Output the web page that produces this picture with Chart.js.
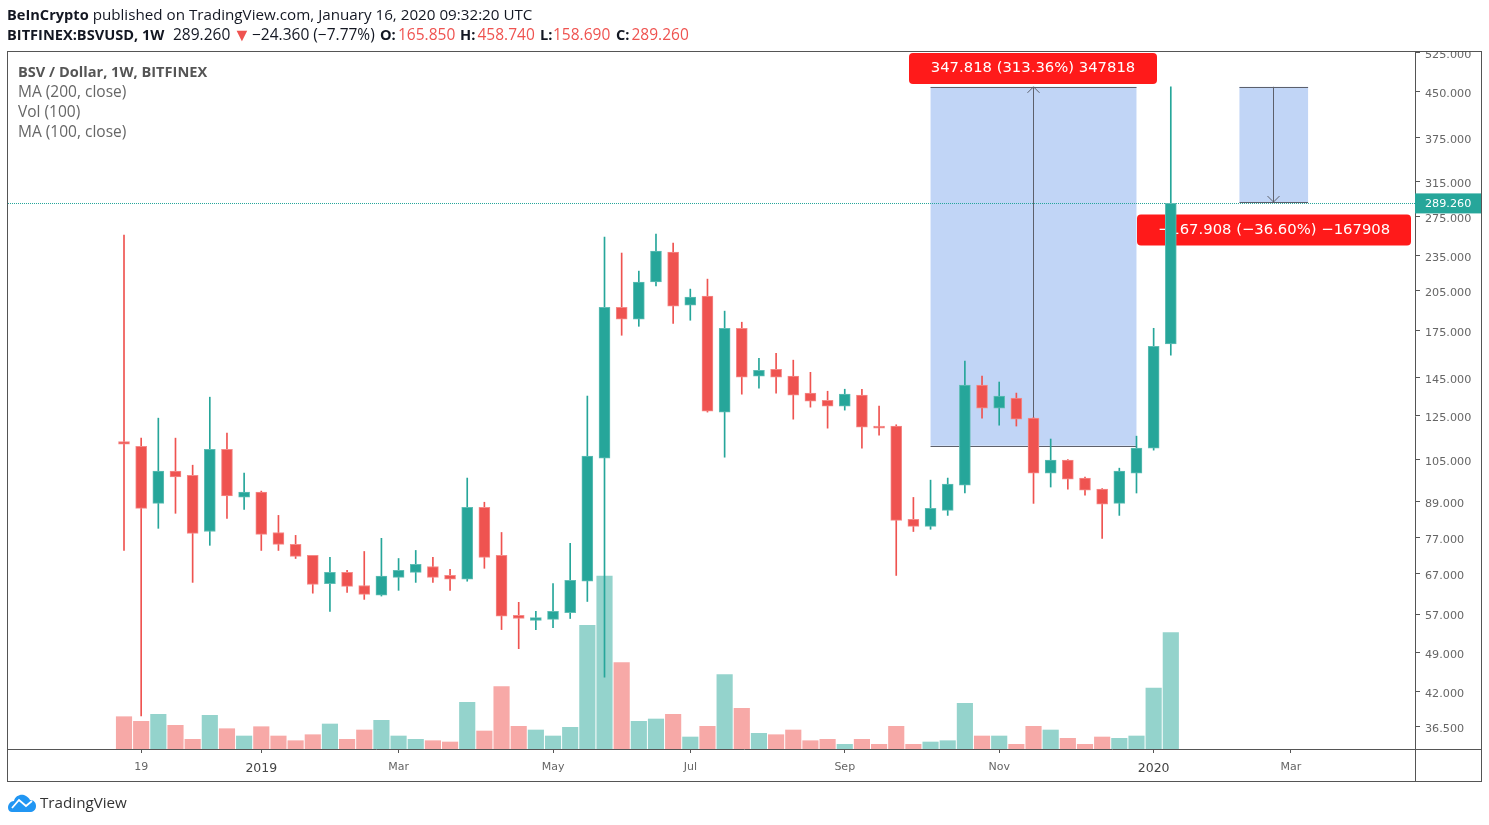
<!DOCTYPE html>
<html><head><meta charset="utf-8">
<script src="https://cdn.jsdelivr.net/npm/chart.js@4"></script>
<style>
html,body{margin:0;padding:0;background:#fff;width:1489px;height:825px;overflow:hidden}
#wrap{position:relative;width:1489px;height:825px}
canvas{position:absolute;left:0;top:0}
.t{position:absolute;white-space:nowrap;font-family:"Open Sans",sans-serif;font-size:15.5px;line-height:18px;color:#131722}
.b{font-weight:700;font-size:14.6px}
.r{color:#EF5350}
.l{color:#666;font-size:15.5px;line-height:20px}
</style></head><body>
<div id="wrap">
<canvas id="c" width="1489" height="825"></canvas>
<div class="t" style="left:7px;top:5px;font-size:15.2px"><span class="b">BeInCrypto</span> published on TradingView.com, January 16, 2020 09:32:20 UTC</div>
<div class="t b" style="left:7px;top:25px">BITFINEX:BSVUSD, 1W</div>
<div class="t" style="left:173px;top:25px">289.260</div>
<div class="t r" style="left:233px;top:25px;font-size:18px">▼</div>
<div class="t" style="left:252px;top:25px">−24.360 (−7.77%)</div>
<div class="t b" style="left:380px;top:25px">O:</div><div class="t r" style="left:398px;top:25px">165.850</div>
<div class="t b" style="left:460px;top:25px">H:</div><div class="t r" style="left:477.5px;top:25px">458.740</div>
<div class="t b" style="left:540px;top:25px">L:</div><div class="t r" style="left:553px;top:25px">158.690</div>
<div class="t b" style="left:616px;top:25px">C:</div><div class="t r" style="left:631.5px;top:25px">289.260</div>
<div class="t l b" style="left:18px;top:61px;color:#555;font-size:14.6px">BSV / Dollar, 1W, BITFINEX</div>
<div class="t l" style="left:18px;top:81px">MA (200, close)</div>
<div class="t l" style="left:18px;top:101px">Vol (100)</div>
<div class="t l" style="left:18px;top:121px">MA (100, close)</div>
<svg style="position:absolute;left:7px;top:793px" width="30" height="20" viewBox="0 0 30 20"><path d="M5 19 C1 19 0 14 2 11 C3 9 5 8 7 8 C8 3 13 1 17 2 C20 3 22 5 23 7 C27 7 29 10 29 13 C29 17 26 19 23 19 Z" fill="#2196F3"/><path d="M5 15 L12 7 L19 13 L25 8" fill="none" stroke="#fff" stroke-width="1.8"/></svg>
<div class="t" style="left:40px;top:793px;font-size:15.2px;color:#333">TradingView</div>
</div>
<script>
const opens  = [112.7,110.7,88.3,100.3,98.7,79.0,109.4,90.5,92.3,78.7,75.1,71.9,64.3,67.2,63.8,61.4,65.9,67.2,68.8,66.4,65.4,86.9,71.9,56.7,55.55,55.8,57.3,64.9,105.6,191.8,183.0,212.0,238.6,193.5,200.5,126.7,176.5,146.0,150.1,146.1,136.6,132.8,129.7,135.5,119.9,119.9,82.9,80.6,85.9,94.9,141.0,128.7,133.9,123.7,99.5,104.8,97.6,93.4,88.3,99.5,109.9,165.85];
const highs  = [255.2,114.3,123.7,114.3,102.7,134.4,116.6,99.5,92.7,84.2,77.8,71.9,71.3,67.75,73.0,76.9,71.0,73.3,71.3,68.0,97.6,88.7,78.7,59.7,57.6,64.3,75.4,135.0,253.2,237.7,221.3,256.2,247.3,206.1,214.4,188.9,180.8,156.8,159.9,155.6,148.3,137.6,138.7,138.7,129.7,120.5,90.4,96.8,97.6,155.0,146.1,142.7,136.6,124.0,113.9,105.0,98.0,93.6,101.5,115.2,176.5,458.74];
const lows   = [73.3,38.1,80.0,84.9,64.6,74.8,83.2,86.2,73.3,73.3,71.0,61.9,57.6,62.1,60.4,61.2,62.6,64.6,64.6,62.6,64.9,68.3,53.6,49.7,53.6,54.0,56.0,59.9,44.4,171.7,177.9,208.8,180.0,182.2,126.7,106.0,136.0,139.3,136.6,123.2,129.2,118.9,127.7,109.9,115.7,66.4,79.0,79.7,84.2,92.0,123.7,120.3,119.9,88.3,94.2,93.4,91.2,76.9,84.2,92.0,109.0,158.69];
const closes = [111.6,86.6,100.3,98.0,78.4,109.4,90.9,92.3,78.1,75.1,71.6,64.1,67.2,63.6,61.6,66.2,67.75,69.4,65.9,65.4,86.9,71.3,56.5,56.0,56.2,57.6,65.1,106.5,191.8,183.0,212.0,239.6,192.7,199.7,127.2,176.5,145.5,149.5,145.5,135.5,132.3,129.7,136.0,119.4,118.9,82.55,80.6,86.6,95.3,141.0,128.7,135.0,123.2,99.5,104.8,97.2,93.05,88.0,100.3,109.9,164.4,289.26];
const volumes = [32.3,27.7,34.7,23.7,9.7,33.7,20.3,13,22.3,13,8.3,14.3,25,9.7,19,28.7,13,9.7,8.3,7,46.7,18,62.3,22.7,19,13,21.7,123.7,173,86.3,27.7,30,34.7,12,22.7,74.3,40.7,15.7,14.3,19,8.3,9.7,4.7,9.7,4.7,22.7,4.7,7,8.3,45.7,13,13,4.7,22.7,19,10.7,4.7,12,10.7,13,61,116.3];
const priceTicks = [525,450,375,315,275,235,205,175,145,125,105,89,77,67,57,49,42,36.5];
const xTickIndex = [1,8,16,25,33,42,51,60,68];
const xTickLabels = ["19","2019","Mar","May","Jul","Sep","Nov","2020","Mar"];
const yearTicks = ["2019","2020"];
const lastPrice = 289.26;
const measureUpWeeks = [47,59], measureUpPrices = [110.92,458.74], measureUpLabel = "347.818 (313.36%) 347818";
const measureDownWeeks = [65,69], measureDownPrices = [458.74,290.83], measureDownLabel = "−167.908 (−36.60%) −167908";

const GREEN='#26A69A', RED='#EF5350', AXIS='#555';
const up = i => closes[i] >= opens[i];
const idx = opens.map((_,i)=>i);
const colBy = (g,r) => idx.map(i=>up(i)?g:r);
const isYear = c => !!(c.tick && yearTicks.includes(xTickLabels[xTickIndex.indexOf(c.tick.value)]));

function rr(ctx,x,y,w,h,r){ctx.beginPath();ctx.roundRect(x,y,w,h,r);}
function measure(ctx,xs,ys,weeks,prices,label,dir,lab){
  const x0=xs.getPixelForValue(weeks[0]), x1=xs.getPixelForValue(weeks[1]);
  const yT=ys.getPixelForValue(prices[dir>0?1:0]), yB=ys.getPixelForValue(prices[dir>0?0:1]);
  ctx.fillStyle='#C1D5F6'; ctx.fillRect(x0,yT,x1-x0,yB-yT);
  ctx.strokeStyle='#5d606b'; ctx.lineWidth=1;
  ctx.beginPath();
  ctx.moveTo(x0,Math.round(yT)+.5);ctx.lineTo(x1,Math.round(yT)+.5);
  ctx.moveTo(x0,Math.round(yB)+.5);ctx.lineTo(x1,Math.round(yB)+.5);
  const cx=Math.round((x0+x1)/2)-.5;
  ctx.moveTo(cx,yT);ctx.lineTo(cx,yB);
  const tip=dir>0?yT:yB, s=dir>0?1:-1;
  ctx.moveTo(cx-6,tip+6*s);ctx.lineTo(cx,tip);ctx.lineTo(cx+6,tip+6*s);
  ctx.stroke();
  ctx.fillStyle='#FF1A1A'; rr(ctx,lab.x,lab.y,lab.w,lab.h,4); ctx.fill();
  ctx.fillStyle='#fff'; ctx.font='14.8px "DejaVu Sans"'; ctx.textAlign='center'; ctx.textBaseline='middle';
  ctx.fillText(label,lab.x+lab.w/2,lab.y+lab.h/2);
}
const overlay={id:'overlay',
  beforeDatasetsDraw(ch){
    const ctx=ch.ctx,xs=ch.scales.x,ys=ch.scales.y;
    ctx.save();
    const py=Math.round(ys.getPixelForValue(lastPrice))+.5;
    measure(ctx,xs,ys,measureUpWeeks,measureUpPrices,measureUpLabel,1,{x:909,y:53,w:248,h:31});
    measure(ctx,xs,ys,measureDownWeeks,measureDownPrices,measureDownLabel,-1,{x:1137,y:214.5,w:274,h:31});
    ctx.strokeStyle=GREEN;ctx.setLineDash([1,1]);ctx.lineWidth=1;
    ctx.beginPath();ctx.moveTo(ch.chartArea.left,py);ctx.lineTo(ch.chartArea.right,py);ctx.stroke();
    ctx.restore();
  },
  afterDraw(ch){
    const ctx=ch.ctx,ys=ch.scales.y,a=ch.chartArea;
    ctx.save();
    ctx.fillStyle='#fff';ctx.fillRect(a.right+1,40,70,11.5);
    ctx.strokeStyle=AXIS;ctx.lineWidth=1;
    ctx.strokeRect(7.5,51.5,1474,730);
    ctx.beginPath();ctx.moveTo(a.right+.5,52);ctx.lineTo(a.right+.5,781);
    ctx.moveTo(8,a.bottom+.5);ctx.lineTo(1481,a.bottom+.5);ctx.stroke();
    const py=ys.getPixelForValue(lastPrice);
    ctx.fillStyle=GREEN;ctx.fillRect(a.right,py-10,66,20);
    ctx.fillStyle='#fff';ctx.font='11.2px "DejaVu Sans"';ctx.textAlign='left';ctx.textBaseline='middle';
    ctx.fillText(lastPrice.toFixed(3),a.right+10,py+.5);
    ctx.restore();
  }};

new Chart(document.getElementById('c'),{
  type:'bar',
  data:{datasets:[
    {label:'Vol',yAxisID:'v',order:3,barThickness:15.5,backgroundColor:colBy('#94D3CC','#F7A9A7'),
     data:idx.map(i=>({x:i,y:volumes[i]}))},
    {label:'Wick',yAxisID:'y',order:2,barThickness:1,backgroundColor:colBy(GREEN,RED),
     data:idx.map(i=>({x:i,y:[lows[i],highs[i]]}))},
    {label:'Body',yAxisID:'y',order:1,barThickness:11,backgroundColor:colBy(GREEN,RED),
     borderColor:colBy('#5FBDB4','#F58A88'),borderWidth:1,borderSkipped:false,
     data:idx.map(i=>({x:i,y:[opens[i],closes[i]]}))}
  ]},
  options:{
    responsive:false,maintainAspectRatio:false,animation:false,devicePixelRatio:1,
    layout:{padding:{left:8,top:52,right:8,bottom:44}},
    datasets:{bar:{grouped:false}},
    plugins:{legend:{display:false},tooltip:{enabled:false},title:{display:false}},
    scales:{
      x:{type:'linear',min:-6.76,max:75.23,offset:false,
        afterBuildTicks:s=>{s.ticks=xTickIndex.map(v=>({value:v}));},
        afterFit:s=>{s.height=32;},
        grid:{offset:false,drawOnChartArea:false,drawTicks:true,tickLength:4,color:AXIS},border:{display:false},
        ticks:{autoSkip:false,maxRotation:0,padding:8,color:c=>isYear(c)?'#444':'#666',
          font:c=>isYear(c)?{family:'"DejaVu Sans"',size:12.5}:{family:'"DejaVu Sans"',size:11},
          callback:v=>xTickLabels[xTickIndex.indexOf(v)]}},
      y:{type:'logarithmic',position:'right',min:33.42,max:526.5,
        afterBuildTicks:s=>{s.ticks=priceTicks.map(v=>({value:v}));},
        afterFit:s=>{s.width=66;},
        grid:{drawOnChartArea:false,drawTicks:true,tickLength:5,color:AXIS},border:{display:false},
        ticks:{autoSkip:false,padding:5,labelOffset:2.5,color:'#666',font:{family:'"DejaVu Sans"',size:11.2},
          callback:v=>Number(v).toFixed(3)}},
      v:{type:'linear',display:false,min:0,max:697}
    }
  },
  plugins:[overlay]
});
</script>
</body></html>
